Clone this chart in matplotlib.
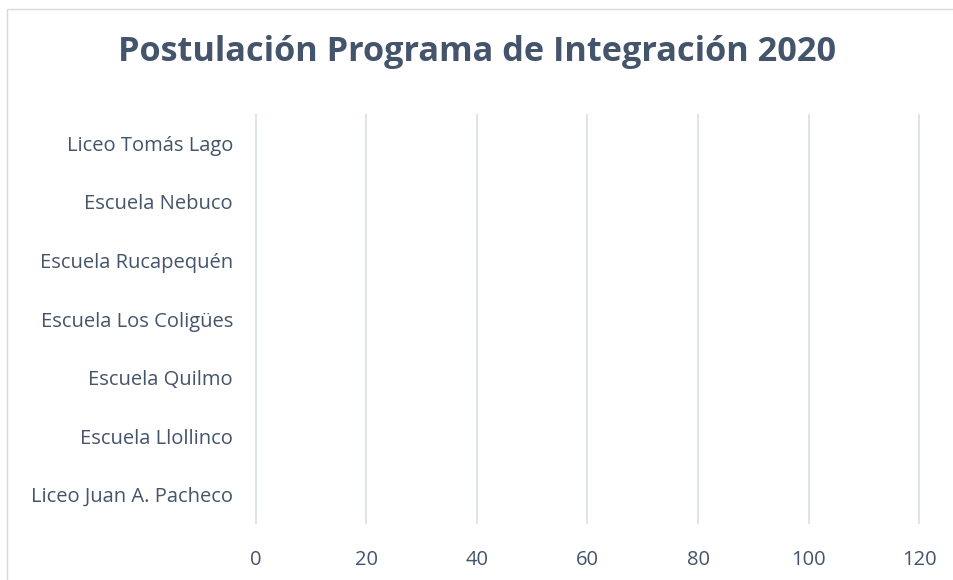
import matplotlib.pyplot as plt
from matplotlib.patches import Rectangle

# Datos (bottom -> top, como en Excel)
escuelas = ["Liceo Juan A. Pacheco", "Escuela Llollinco", "Escuela Quilmo",
            "Escuela Los Coligües", "Escuela Rucapequén", "Escuela Nebuco",
            "Liceo Tomás Lago"]
postulantes = [0, 0, 0, 0, 0, 0, 0]
xticks = [0, 20, 40, 60, 80, 100, 120]

txt = "#44546A"
grid = "#DCE1EA"

fig = plt.figure(figsize=(9.54, 5.80), dpi=100)
ax = fig.add_axes([253.2 / 954, 0.0966, (921.8 - 253.2) / 954, 0.7068])

# Borde del área del gráfico
fig.patches.append(Rectangle((7.5 / 954, -0.1), 1.2, 1 - 9.5 / 580 + 0.1,
                             transform=fig.transFigure, fill=False,
                             edgecolor="#D9D9D9", linewidth=1.0))

ax.barh(range(len(escuelas)), postulantes, height=0.6, color="#4472C4")
ax.set_xlim(-0.5, 120.5)
ax.set_ylim(-0.5, len(escuelas) - 0.5)
ax.set_xticks(xticks)
ax.set_yticks(range(len(escuelas)))
ax.set_yticklabels(escuelas)
ax.xaxis.grid(True, color=grid, linewidth=1.3)
ax.set_axisbelow(True)
for s in ax.spines.values():
    s.set_visible(False)
ax.tick_params(axis="both", length=0, colors=txt, labelsize=14.5)
ax.tick_params(axis="x", pad=19)
ax.tick_params(axis="y", pad=14.5)
for lab in ax.get_xticklabels() + ax.get_yticklabels():
    lab.set_fontfamily("Open Sans")
    lab.set_color(txt)

fig.text(0.5, 1 - 52 / 580, "Postulación Programa de Integración 2020",
         ha="center", va="center", fontsize=24.7, fontweight="bold",
         color=txt, family="Open Sans")

fig.savefig("out.png", dpi=100)
